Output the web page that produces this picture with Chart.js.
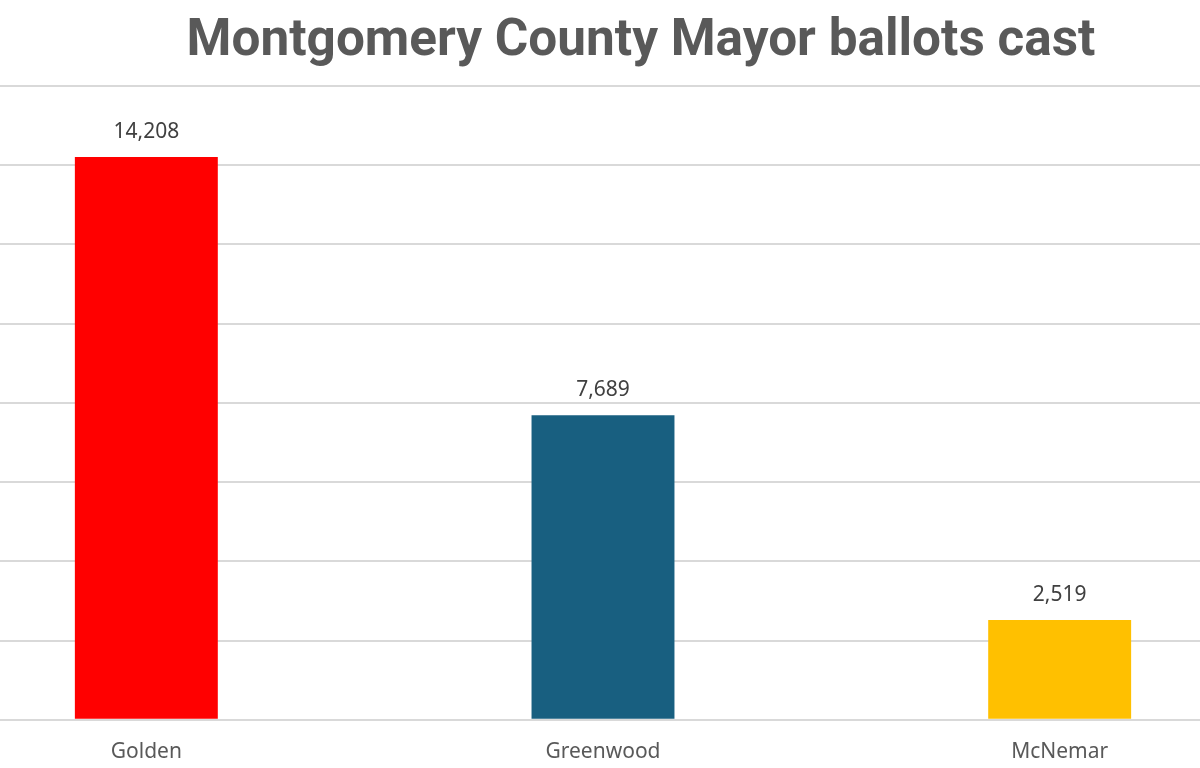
<!DOCTYPE html>
<html>
<head>
<meta charset="utf-8">
<script src="https://cdn.jsdelivr.net/npm/chart.js@4/dist/chart.umd.min.js"></script>
<style>
  html, body { margin: 0; padding: 0; width: 1200px; height: 768px; overflow: hidden; background: #ffffff; }
  #title { position: absolute; left: 0; width: 1282px; top: 8px; text-align: center;
    font-family: Roboto, sans-serif; font-weight: 700; font-size: 51.3px; color: #595959; line-height: 60px; white-space: nowrap; }
  #wrap { position: absolute; left: -82px; top: 0; width: 1370px; height: 791px; }
</style>
</head>
<body>
<div id="title">Montgomery County Mayor ballots cast</div>
<div id="wrap"><canvas id="c"></canvas></div>
<script>
const categories = ["Golden", "Greenwood", "McNemar"];
const ballots = [14208, 7689, 2519];
const barColors = ["#FF0000", "#185F80", "#FFC000"];
const yMin = 0, yMax = 16000, yStep = 2000;

const valueLabels = {
  id: 'valueLabels',
  afterDatasetsDraw(chart) {
    const ctx = chart.ctx;
    const meta = chart.getDatasetMeta(0);
    ctx.save();
    ctx.font = '21px "Noto Sans", sans-serif';
    ctx.fillStyle = '#404040';
    ctx.textAlign = 'center';
    ctx.textBaseline = 'alphabetic';
    meta.data.forEach((bar, i) => {
      ctx.fillText(ballots[i].toLocaleString('en-US'), bar.x, bar.y - 19);
    });
    ctx.restore();
  }
};

new Chart(document.getElementById('c'), {
  type: 'bar',
  data: {
    labels: categories,
    datasets: [{
      data: ballots,
      backgroundColor: barColors,
      borderWidth: 0,
      barPercentage: 0.313,
      categoryPercentage: 1
    }]
  },
  options: {
    responsive: true,
    maintainAspectRatio: false,
    animation: false,
    layout: { padding: { top: 86, bottom: 6, left: 0, right: 0 } },
    plugins: { legend: { display: false }, title: { display: false }, tooltip: { enabled: false } },
    scales: {
      x: {
        grid: { display: false, drawTicks: false },
        border: { display: false },
        ticks: { color: '#595959', padding: 20, font: { family: '"Noto Sans", sans-serif', size: 21 } }
      },
      y: {
        min: yMin, max: yMax,
        ticks: { display: false, stepSize: yStep },
        grid: { color: '#D9D9D9', lineWidth: 2, drawTicks: false },
        border: { display: false }
      }
    }
  },
  plugins: [valueLabels]
});
</script>
</body>
</html>
